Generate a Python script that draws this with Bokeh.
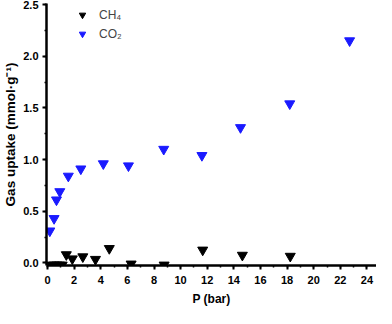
from bokeh.plotting import figure
from bokeh.models import Legend, LegendItem, SingleIntervalTicker, ColumnDataSource, NumeralTickFormatter
from bokeh.embed import file_html
from bokeh.resources import INLINE

# CO2 uptake (mmol/g) vs pressure (bar)
co2_p = [0.17, 0.49, 0.67, 0.92, 1.56, 2.5, 4.19, 6.08, 8.73, 11.6, 14.5, 18.2, 22.7]
co2_u = [0.31, 0.43, 0.61, 0.69, 0.84, 0.91, 0.96, 0.94, 1.10, 1.04, 1.31, 1.54, 2.15]

# CH4 uptake (mmol/g) vs pressure (bar)
ch4_p = [0.3, 0.5, 0.7, 0.9, 1.1, 1.41, 1.86, 2.65, 3.6, 4.64, 6.28, 8.76, 11.66, 14.64, 18.24]
ch4_u = [-0.02, -0.02, -0.02, -0.02, -0.02, 0.08, 0.04, 0.06, 0.035, 0.14, -0.01, -0.02, 0.125, 0.075, 0.065]

series_names = ["CH\u2084", "CO\u2082"]
x_label = "P (bar)"
y_label = "Gas uptake (mmol\u00b7g\u207b\u00b9)"

FONT = "Liberation Sans"

p = figure(width=376, height=308, output_backend="svg", toolbar_location=None,
           x_range=(-0.08, 24.72), y_range=(-0.025, 2.51),
           min_border_left=43, min_border_right=0, min_border_top=3, min_border_bottom=0)
p.outline_line_color = None
p.grid.visible = False
p.background_fill_color = "white"
p.border_fill_color = "white"

src_ch4 = ColumnDataSource(dict(x=ch4_p, y=ch4_u))
src_co2 = ColumnDataSource(dict(x=co2_p, y=co2_u))
r1 = p.scatter("x", "y", source=src_ch4, marker="inverted_triangle", size=10,
               fill_color="black", line_color="black")
r2 = p.scatter("x", "y", source=src_co2, marker="inverted_triangle", size=10,
               fill_color="#1a1aff", line_color="#1a1aff")

p.xaxis.ticker = SingleIntervalTicker(interval=2, num_minor_ticks=2)
p.yaxis.ticker = SingleIntervalTicker(interval=0.5, num_minor_ticks=2)
p.yaxis.formatter = NumeralTickFormatter(format="0.0")

for ax in (p.xaxis[0], p.yaxis[0]):
    ax.axis_line_width = 2.5
    ax.axis_line_color = "black"
    ax.major_tick_line_width = 2
    ax.minor_tick_line_width = 1.5
    ax.major_tick_in = 0
    ax.major_tick_out = 4
    ax.minor_tick_in = 0
    ax.minor_tick_out = 2
    ax.major_label_text_font = FONT
    ax.major_label_text_font_style = "bold"
    ax.major_label_text_font_size = "11px"
    ax.major_label_text_color = "black"
    ax.axis_label_text_font = FONT
    ax.axis_label_text_font_style = "bold"
    ax.axis_label_text_color = "black"

p.xaxis.axis_label = x_label
p.yaxis.axis_label = y_label
p.xaxis.axis_label_text_font_size = "12px"
p.yaxis.axis_label_text_font_size = "13.5px"
p.xaxis.major_label_standoff = 6
p.xaxis.axis_label_standoff = 5
p.yaxis.major_label_standoff = 4
p.yaxis.axis_label_standoff = 2

legend = Legend(items=[LegendItem(label=series_names[0], renderers=[r1]),
                       LegendItem(label=series_names[1], renderers=[r2])],
                location=(28, 222), border_line_color=None, background_fill_alpha=0,
                padding=0, margin=0, spacing=0, glyph_width=16, glyph_height=19,
                label_standoff=9, label_text_font=FONT, label_text_font_size="12px",
                label_height=19)
p.add_layout(legend, "center")

open("out.html", "w").write(file_html(p, INLINE))
